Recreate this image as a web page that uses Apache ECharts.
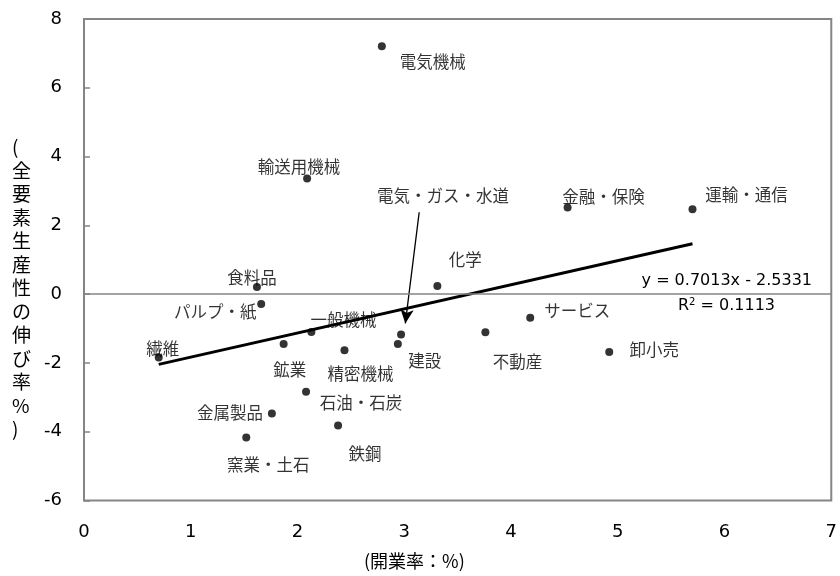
<!DOCTYPE html>
<html><head><meta charset="utf-8">
<script src="https://cdn.jsdelivr.net/npm/echarts@6/dist/echarts.min.js"></script>
<style>html,body{margin:0;padding:0;background:#fff}#c{width:840px;height:576px}</style>
</head><body><div id="c"></div>
<script>
// ---- data ----
const industries = ['電気機械','輸送用機械','電気・ガス・水道','金融・保険','運輸・通信','化学','食料品','パルプ・紙','繊維','鉱業','一般機械','精密機械','石油・石炭','金属製品','窯業・土石','鉄鋼','建設','不動産','サービス','卸小売'];
const openRate   = [2.79, 2.09, 2.97, 4.53, 5.70, 3.31, 1.62, 1.66, 0.70, 1.87, 2.13, 2.44, 2.08, 1.76, 1.52, 2.38, 2.94, 3.76, 4.18, 4.92];
const tfpGrowth  = [7.21, 3.36, -1.17, 2.52, 2.47, 0.24, 0.21, -0.29, -1.84, -1.45, -1.10, -1.63, -2.84, -3.47, -4.17, -3.82, -1.45, -1.11, -0.69, -1.68];
const trendSlope = 0.7013;
const trendIntercept = -2.5331;
const xTicks = [0, 7, 1];   // min, max, interval
const yTicks = [-6, 8, 2];
// annotation arrow (電気・ガス・水道 label -> point), in data units
const arrowFrom = [3.14, 2.38];
const arrowTo = [3.01, -0.85];

// ---- layout (pixel label offsets from point centre) ----
const labelOffsets = {
  '電気機械':[51,16],'輸送用機械':[-8,-12],'電気・ガス・水道':[42,-139],'金融・保険':[36,-11],
  '運輸・通信':[54,-14],'化学':[28,-26],'食料品':[-5,-9],'パルプ・紙':[-46,8],'繊維':[4,-9],
  '鉱業':[6,26],'一般機械':[32,-12],'精密機械':[16,24],'石油・石炭':[55,11],'金属製品':[-42,-1],
  '窯業・土石':[22,27],'鉄鋼':[27,28],'建設':[27,17],'不動産':[32,29],'サービス':[47,-7],'卸小売':[45,-2]
};

const cjk = "'Noto Sans CJK JP', sans-serif";
const num = "'DejaVu Sans', 'Noto Sans CJK JP', sans-serif";

const points = industries.map((n, i) => ({
  value: [openRate[i], tfpGrowth[i]],
  name: n,
  label: { offset: labelOffsets[n] }
}));
const xMin = Math.min(...openRate), xMax = Math.max(...openRate);
const trend = [[xMin, trendSlope * xMin + trendIntercept], [xMax, trendSlope * xMax + trendIntercept]];

const chart = echarts.init(document.getElementById('c'), null, {renderer: 'canvas'});
chart.setOption({
  animation: false,
  backgroundColor: '#fff',
  grid: { left: 84, right: 4, top: 19, bottom: 75.5, show: true, borderColor: '#858585', borderWidth: 2, backgroundColor: 'transparent' },
  xAxis: {
    type: 'value', min: xTicks[0], max: xTicks[1], interval: xTicks[2],
    axisLine: { show: false }, axisTick: { show: false }, splitLine: { show: false },
    axisLabel: { fontSize: 18, color: '#000', fontFamily: num, margin: 23 }
  },
  yAxis: {
    type: 'value', min: yTicks[0], max: yTicks[1], interval: yTicks[2],
    axisLine: { show: false },
    axisTick: { show: true, inside: true, length: 6, lineStyle: { color: '#858585', width: 1.5 } },
    splitLine: { show: false },
    axisLabel: { fontSize: 18, color: '#000', fontFamily: num, margin: 22 }
  },
  series: [
    {
      type: 'scatter', data: points, symbol: 'circle', symbolSize: 8,
      itemStyle: { color: '#000' },
      label: { show: true, position: 'inside', align: 'center', verticalAlign: 'middle',
        formatter: p => p.name, color: '#000', fontSize: 16.5, fontFamily: cjk },
      markLine: {
        silent: true,
        data: [
          [{ coord: arrowFrom, symbol: 'none' }, { coord: arrowTo, symbol: 'arrow', symbolSize: [10, 14] }]
        ],
        lineStyle: { color: '#000', width: 1.3, type: 'solid' },
        label: { show: false }
      },
      z: 3
    },
    {
      type: 'line', data: trend, symbol: 'none', lineStyle: { color: '#000', width: 3 },
      markLine: {
        silent: true, symbol: 'none',
        data: [{ yAxis: 0 }],
        lineStyle: { color: '#858585', width: 1.5, type: 'solid' },
        label: { show: false }
      },
      z: 2
    }
  ],
  graphic: [
    { type: 'text', left: 12, top: 'middle', style: {
        text: '(\n全\n要\n素\n生\n産\n性\nの\n伸\nび\n率\n%\n)', fontSize: 19, lineHeight: 23.5,
        fontFamily: cjk, fill: '#000', align: 'center' } },
    { type: 'text', left: 364, top: 552, style: {
        text: '(開業率：%)', fontSize: 18, fontFamily: cjk, fill: '#000' } },
    { type: 'text', right: 28, top: 273, style: {
        text: 'y = 0.7013x - 2.5331', fontSize: 16, fontFamily: num, fill: '#000' } },
    { type: 'text', right: 65, top: 297, style: {
        rich: { a: { fontSize: 16, fontFamily: num, fill: '#000' }, s: { fontSize: 10, fontFamily: num, fill: '#000', verticalAlign: 'top', padding: [0,0,8,0] } },
        text: '{a|R}{s|2}{a| = 0.1113}' } }
  ]
});
</script></body></html>
